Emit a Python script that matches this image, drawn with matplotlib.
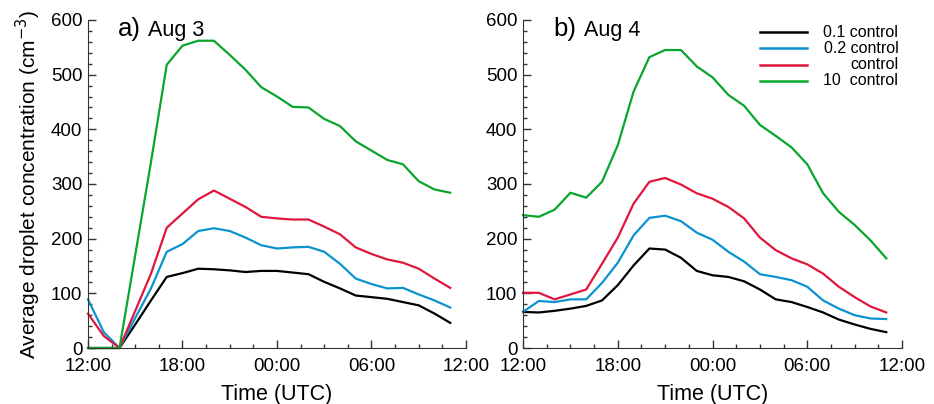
import numpy as np
import matplotlib
matplotlib.use('Agg')
import matplotlib.pyplot as plt
from matplotlib.ticker import MultipleLocator

plt.rcParams['font.family'] = ['Liberation Sans', 'DejaVu Sans']

# hours after 12:00 UTC
hours = np.arange(24)
xticks = [0, 6, 12, 18, 24]
xticklabels = ['12:00', '18:00', '00:00', '06:00', '12:00']

labels = ['0.1 control', '0.2 control', 'control', '10  control']
colors = ['black', '#0b93d0', '#e0163f', '#0aa52c']

# Aug 3
aug3_01 = [0, 0, 0, 43, 87, 130, 137, 145, 144, 142, 139, 141,
           141, 138, 135, 121, 109, 96, 93, 90, 84, 78, 63, 46]
aug3_02 = [89, 29, 0, 55, 109, 176, 190, 214, 219, 214, 202, 188,
           182, 184, 185, 176, 154, 127, 117, 109, 110, 98, 87, 74]
aug3_ctl = [63, 22, 0, 68, 136, 220, 246, 272, 288, 273, 258, 240,
            237, 235, 235, 222, 208, 184, 172, 162, 156, 145, 127, 110]
aug3_10 = [0, 0, 0, 170, 340, 518, 553, 562, 562, 536, 509, 477,
           460, 441, 440, 419, 406, 378, 361, 344, 336, 305, 290, 284]

# Aug 4
aug4_01 = [66, 65, 68, 72, 77, 87, 115, 151, 182, 180, 165, 141,
           133, 130, 122, 107, 89, 84, 75, 65, 52, 43, 35, 29]
aug4_02 = [66, 86, 84, 89, 89, 119, 156, 206, 238, 242, 232, 211,
           198, 176, 158, 135, 130, 124, 112, 87, 72, 60, 54, 53]
aug4_ctl = [101, 101, 89, 98, 107, 154, 202, 264, 304, 311, 299, 283,
            273, 258, 237, 202, 179, 164, 153, 136, 112, 93, 76, 65]
aug4_10 = [243, 240, 253, 284, 275, 304, 371, 469, 532, 545, 545, 515,
           495, 463, 443, 408, 388, 367, 336, 283, 249, 225, 197, 164]

panels = [
    ('a)', 'Aug 3', [aug3_01, aug3_02, aug3_ctl, aug3_10]),
    ('b)', 'Aug 4', [aug4_01, aug4_02, aug4_ctl, aug4_10]),
]

fig = plt.figure(figsize=(9.34, 4.04), dpi=100)
ax_a = fig.add_axes([0.0942, 0.1386, 0.4047, 0.812])
ax_b = fig.add_axes([0.5600, 0.1386, 0.4058, 0.812])

for ax, (tag, day, series) in zip([ax_a, ax_b], panels):
    for ys, c, lab in zip(series, colors, labels):
        ax.plot(hours, ys, color=c, lw=1.6, label=lab, clip_on=False)
    ax.set_xlim(0, 24)
    ax.set_ylim(0, 600)
    ax.set_xticks(xticks)
    ax.set_xticklabels(xticklabels)
    ax.xaxis.set_minor_locator(MultipleLocator(1.5))
    ax.yaxis.set_major_locator(MultipleLocator(100))
    ax.yaxis.set_minor_locator(MultipleLocator(20))
    ax.tick_params(which='both', direction='in', labelsize=13.5, color='#333333')
    ax.tick_params(axis='y', pad=4)
    ax.tick_params(axis='x', pad=7.5)
    ax.tick_params(which='major', length=6, width=1)
    ax.tick_params(which='minor', length=3, width=1)
    for s in ['top', 'right']:
        ax.spines[s].set_visible(False)
    for s in ['left', 'bottom']:
        ax.spines[s].set_color('#333333')
    ax.set_xlabel('Time (UTC)', fontsize=15.5, labelpad=6)
    ax.text(0.08, 0.952, tag, transform=ax.transAxes, fontsize=18.5, va='baseline')
    ax.text(0.16, 0.952, day, transform=ax.transAxes, fontsize=15.5, va='baseline')

ax_a.set_ylabel('Average droplet concentration (cm$^{-3}$)', fontsize=15, labelpad=6)

# legend in panel b, labels right-aligned
rows = [0.963, 0.913, 0.864, 0.815]
for c, lab, y in zip(colors, labels, rows):
    ax_b.plot([0.625, 0.749], [y, y], color=c, lw=1.8, transform=ax_b.transAxes)
    ax_b.text(0.99, y, lab, transform=ax_b.transAxes, ha='right', va='center', fontsize=11.5)

fig.savefig('out.png', dpi=100)
